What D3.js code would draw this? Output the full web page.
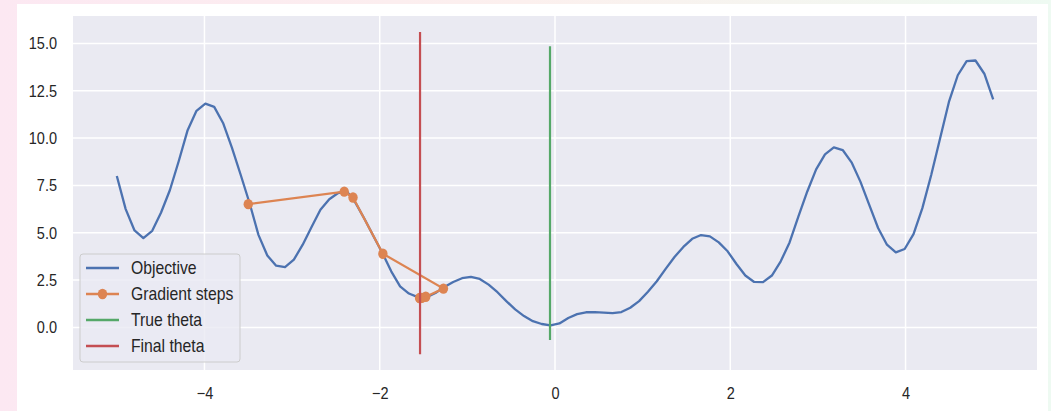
<!DOCTYPE html>
<html>
<head>
<meta charset="utf-8">
<script src="https://cdn.jsdelivr.net/npm/d3@7"></script>
<style>
  html, body { margin: 0; padding: 0; }
  body {
    width: 1051px; height: 411px; overflow: hidden;
    background: linear-gradient(90deg, #fce8f2 0%, #fcf0ee 50%, #eefaf2 100%);
    position: relative;
  }
  #card { position: absolute; left: 17px; top: 4px; width: 1031px; height: 420px; background: #ffffff; }
  svg { position: absolute; left: 0; top: 0; }
  text { font-family: "Liberation Sans", Arial, sans-serif; fill: #262626; }
</style>
</head>
<body>
<div id="card"></div>
<svg id="chart" width="1051" height="411"></svg>
<script>
// Objective curve: 100 samples from x = -5 to 5
const xStart = -5, xEnd = 5, nPoints = 100;
const objectiveY = [
  8.00, 6.25, 5.12, 4.72, 5.10, 6.07, 7.26, 8.79, 10.42, 11.44,
  11.82, 11.65, 10.80, 9.50, 8.05, 6.56, 4.89, 3.80, 3.26, 3.19,
  3.58, 4.37, 5.30, 6.21, 6.77, 7.10, 7.18, 6.55, 5.71, 4.82,
  3.93, 2.96, 2.17, 1.79, 1.60, 1.60, 1.82, 2.14, 2.40, 2.60,
  2.67, 2.56, 2.26, 1.86, 1.39, 0.95, 0.60, 0.33, 0.18, 0.11,
  0.21, 0.50, 0.70, 0.80, 0.81, 0.78, 0.75, 0.81, 1.04, 1.39,
  1.88, 2.44, 3.09, 3.72, 4.25, 4.68, 4.88, 4.81, 4.49, 4.02,
  3.35, 2.74, 2.40, 2.39, 2.74, 3.49, 4.49, 5.86, 7.18, 8.35,
  9.14, 9.51, 9.37, 8.72, 7.70, 6.47, 5.25, 4.37, 3.96, 4.14,
  4.93, 6.30, 8.05, 9.98, 11.91, 13.32, 14.07, 14.10, 13.40, 12.04
];
const objectiveX = objectiveY.map((_, i) => xStart + i * (xEnd - xStart) / (nPoints - 1));

// Gradient descent steps
const stepX = [-3.50, -2.405, -2.305, -1.964, -1.273, -1.475, -1.52, -1.54, -1.545];
const stepY = [6.51, 7.17, 6.86, 3.89, 2.05, 1.62, 1.56, 1.55, 1.55];

// Vertical markers
const trueTheta = -0.057, trueThetaRange = [-0.67, 14.85];
const finalTheta = -1.54, finalThetaRange = [-1.42, 15.60];

const xTicks = [-4, -2, 0, 2, 4];
const yTicks = [0, 2.5, 5, 7.5, 10, 12.5, 15];
const legendLabels = ["Objective", "Gradient steps", "True theta", "Final theta"];
const colors = { blue: "#4c72b0", orange: "#dd8452", green: "#55a868", red: "#c44e52" };

const L = 73, R = 1037, T = 16, B = 370;
const SX = 0.88; // horizontal squeeze of the original picture
const x = d3.scaleLinear().domain([-5.5, 5.5]).range([L, R]);
const y = d3.scaleLinear().domain([-2.25, 16.45]).range([B, T]);

const svg = d3.select("#chart");
svg.append("rect").attr("x", L).attr("y", T).attr("width", R - L).attr("height", B - T).attr("fill", "#eaeaf2");

// grid
const grid = svg.append("g");
grid.selectAll("line.gx").data(xTicks).join("line")
  .attr("x1", d => x(d)).attr("x2", d => x(d)).attr("y1", T).attr("y2", B)
  .attr("stroke", "#fff").attr("stroke-width", 1.5);
grid.selectAll("line.gy").data(yTicks).join("line")
  .attr("y1", d => y(d)).attr("y2", d => y(d)).attr("x1", L).attr("x2", R)
  .attr("stroke", "#fff").attr("stroke-width", 1.5);

function squeeze(sel) {
  sel.each(function() {
    const t = d3.select(this);
    const tx = +t.attr("x") || 0, ty = +t.attr("y") || 0;
    t.attr("x", 0).attr("y", 0).attr("transform", `translate(${tx},${ty}) scale(${SX},1)`);
  });
}

// axes (labels only)
const xAxis = d3.axisBottom(x).tickValues(xTicks).tickSize(0).tickPadding(17)
  .tickFormat(d => d < 0 ? "\u2212" + Math.abs(d) : String(d));
const gx = svg.append("g").attr("transform", `translate(0,${B})`).call(xAxis);
gx.select(".domain").remove();
gx.selectAll("text").attr("font-size", "16.5px").attr("fill", "#262626")
  .attr("font-family", '"Liberation Sans", Arial, sans-serif').call(squeeze);

const yAxis = d3.axisLeft(y).tickValues(yTicks).tickSize(0).tickPadding(16)
  .tickFormat(d3.format(".1f"));
const gy = svg.append("g").attr("transform", `translate(${L},0)`).call(yAxis);
gy.select(".domain").remove();
gy.selectAll("text").attr("font-size", "16.5px").attr("fill", "#262626")
  .attr("font-family", '"Liberation Sans", Arial, sans-serif').call(squeeze);

// objective line
const pts = objectiveX.map((xv, i) => [xv, objectiveY[i]]);
svg.append("path").datum(pts)
  .attr("d", d3.line().x(d => x(d[0])).y(d => y(d[1])))
  .attr("fill", "none").attr("stroke", colors.blue).attr("stroke-width", 2.3)
  .attr("stroke-linejoin", "round");

// gradient steps
const steps = stepX.map((xv, i) => [xv, stepY[i]]);
svg.append("path").datum(steps)
  .attr("d", d3.line().x(d => x(d[0])).y(d => y(d[1])))
  .attr("fill", "none").attr("stroke", colors.orange).attr("stroke-width", 2.3);
svg.selectAll("ellipse.step").data(steps).join("ellipse")
  .attr("cx", d => x(d[0])).attr("cy", d => y(d[1])).attr("rx", 4.7).attr("ry", 5.2)
  .attr("fill", colors.orange);

// vertical lines
svg.append("line").attr("x1", x(trueTheta)).attr("x2", x(trueTheta))
  .attr("y1", y(trueThetaRange[0])).attr("y2", y(trueThetaRange[1]))
  .attr("stroke", colors.green).attr("stroke-width", 2.2);
svg.append("line").attr("x1", x(finalTheta)).attr("x2", x(finalTheta))
  .attr("y1", y(finalThetaRange[0])).attr("y2", y(finalThetaRange[1]))
  .attr("stroke", colors.red).attr("stroke-width", 2.2);

// legend
const lg = svg.append("g").attr("transform", "translate(80,254)");
lg.append("rect").attr("width", 160).attr("height", 108).attr("rx", 3)
  .attr("fill", "#eaeaf2").attr("fill-opacity", 0.8)
  .attr("stroke", "#cccccc").attr("stroke-width", 1);
const legendColors = [colors.blue, colors.orange, colors.green, colors.red];
legendLabels.forEach((lab, i) => {
  const cy = 14 + i * 26;
  lg.append("line").attr("x1", 6).attr("x2", 39).attr("y1", cy).attr("y2", cy)
    .attr("stroke", legendColors[i]).attr("stroke-width", 2.3);
  if (i === 1) lg.append("ellipse").attr("cx", 22.5).attr("cy", cy).attr("rx", 4.7).attr("ry", 5.2).attr("fill", colors.orange);
  lg.append("text").attr("transform", `translate(51,${cy}) scale(0.9,1)`).attr("dy", "0.36em")
    .attr("font-size", "17.5px").text(lab);
});
</script>
</body>
</html>
